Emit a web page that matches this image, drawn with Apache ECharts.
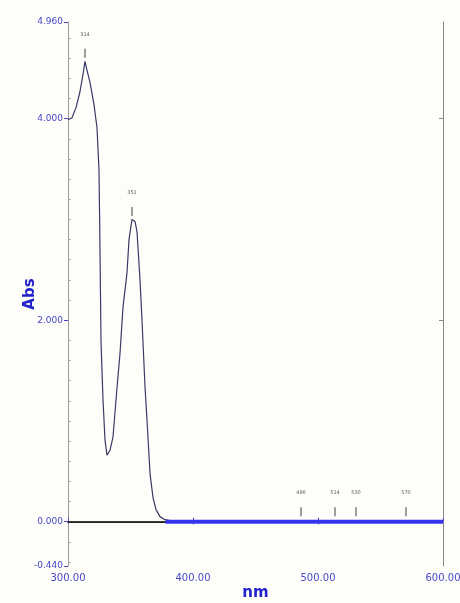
<!DOCTYPE html>
<html>
<head>
<meta charset="utf-8">
<script src="https://cdn.jsdelivr.net/npm/echarts@6/dist/echarts.min.js"></script>
<style>
html,body{margin:0;padding:0;background:#fdfdfa;}
#chart{width:460px;height:603px;}
</style>
</head>
<body>
<div id="chart"></div>
<script>
// Wavelength (nm) and absorbance
const wavelengths = [300, 303.2, 306.4, 309.6, 312, 313.6, 315.2, 317.6, 320.8, 323.2, 324.8, 325.6, 326.4, 328, 329.6, 331.2, 333.6, 336, 339.2, 341.6, 344, 347.2, 348.8, 351.2, 353.6, 355.2, 357.6, 359.2, 361.6, 363.2, 365.6, 368, 370.4, 373.6, 377.6, 381.6];
const absorbance  = [3.99, 4.01, 4.11, 4.27, 4.44, 4.57, 4.48, 4.36, 4.14, 3.91, 3.49, 2.70, 1.79, 1.21, 0.81, 0.66, 0.71, 0.84, 1.33, 1.67, 2.13, 2.47, 2.80, 3.00, 2.98, 2.88, 2.40, 2.00, 1.34, 1.01, 0.48, 0.24, 0.12, 0.05, 0.02, 0.01];
const baselineNm  = [378, 600];
const baselineAbs = [0, 0];
const peakNm      = [313.6, 351.2, 486.4, 513.6, 530.4, 570.4];
const peakAbs     = [4.57, 3.00, 0.02, 0.02, 0.02, 0.02];
const xTicks      = [300, 400, 500, 600];
const yTicks      = [-0.44, 0, 2, 4, 4.96];
const yMinor      = [-0.4,-0.2,0.2,0.4,0.6,0.8,1.0,1.2,1.4,1.6,1.8,2.2,2.4,2.6,2.8,3.0,3.2,3.4,3.6,3.8,4.2,4.4,4.6,4.8];

const blue = '#4a48c8';
const chart = echarts.init(document.getElementById('chart'));
const zip = (a, b) => a.map((v, i) => [v, b[i]]);

chart.setOption({
  backgroundColor: '#fdfdfa',
  animation: false,
  grid: { left: 68, right: 17, top: 22, bottom: 37, outerBoundsMode: 'none', containLabel: false },
  xAxis: [
    {
      type: 'value', min: 300, max: 600, position: 'bottom',
      axisLine: { lineStyle: { color: '#333', width: 2 } },
      axisTick: { inside: true, length: 4, customValues: xTicks, lineStyle: { color: blue } },
      axisLabel: { customValues: xTicks, formatter: v => v.toFixed(2), color: blue, fontSize: 10, fontFamily: 'DejaVu Sans', margin: 7 },
      splitLine: { show: false },
      name: 'nm', nameLocation: 'middle', nameGap: 20, nameMoveOverlap: false,
      nameTextStyle: { color: '#2222cc', fontSize: 15, fontWeight: 'bold', fontFamily: 'DejaVu Sans' }
    },
    {
      type: 'value', min: 300, max: 600, position: 'top',
      axisLine: { show: true, lineStyle: { color: '#888', width: 1 } },
      axisTick: { inside: true, length: 3, customValues: xTicks, lineStyle: { color: '#888' } },
      axisLabel: { show: false }, splitLine: { show: false }
    }
  ],
  yAxis: [
    {
      type: 'value', min: -0.44, max: 4.96, position: 'left',
      axisLine: { show: true, lineStyle: { color: '#999', width: 1 } },
      axisTick: { show: true, inside: false, length: 4, customValues: yTicks, lineStyle: { color: blue } },
      axisLabel: { customValues: yTicks, formatter: v => v.toFixed(3), color: blue, fontSize: 9, fontFamily: 'DejaVu Sans', margin: 5 },
      splitLine: { show: false },
      name: 'Abs', nameLocation: 'middle', nameGap: 30, nameRotate: 90, nameMoveOverlap: false,
      nameTextStyle: { color: '#2222cc', fontSize: 15, fontWeight: 'bold', fontFamily: 'DejaVu Sans' }
    },
    {
      type: 'value', min: -0.44, max: 4.96, position: 'right',
      axisLine: { show: true, lineStyle: { color: '#888', width: 1 } },
      axisTick: { show: true, inside: true, length: 4, customValues: [0, 2, 4], lineStyle: { color: '#888' } },
      axisLabel: { show: false }, splitLine: { show: false }
    },
    {
      type: 'value', min: -0.44, max: 4.96, position: 'left',
      axisLine: { show: false },
      axisTick: { show: true, inside: true, length: 3, customValues: yMinor, lineStyle: { color: '#aaa' } },
      axisLabel: { show: false }, splitLine: { show: false }
    }
  ],
  series: [
    {
      type: 'line', xAxisIndex: 0, yAxisIndex: 0,
      data: zip(wavelengths, absorbance),
      showSymbol: false, smooth: false,
      lineStyle: { color: '#3a3a66', width: 1.2 },
      markLine: {
        silent: true, symbol: 'none', label: { show: false },
        lineStyle: { color: '#222', width: 1.5, type: 'solid' },
        data: [{ yAxis: 0 }]
      },
      z: 3
    },
    {
      type: 'line', xAxisIndex: 0, yAxisIndex: 0,
      data: zip(baselineNm, baselineAbs),
      showSymbol: false,
      lineStyle: { color: '#3535f0', width: 4 },
      z: 6, zlevel: 1
    },
    {
      type: 'scatter', xAxisIndex: 0, yAxisIndex: 0,
      data: zip(peakNm, peakAbs),
      symbol: 'rect', symbolSize: [1.2, 9], symbolOffset: [0, -8],
      itemStyle: { color: '#333' },
      label: {
        show: true, position: 'top', distance: 12,
        formatter: p => p.value[0].toFixed(0),
        fontSize: 5, color: '#333', fontFamily: 'DejaVu Sans'
      },
      z: 5, zlevel: 1
    }
  ]
});
</script>
</body>
</html>
